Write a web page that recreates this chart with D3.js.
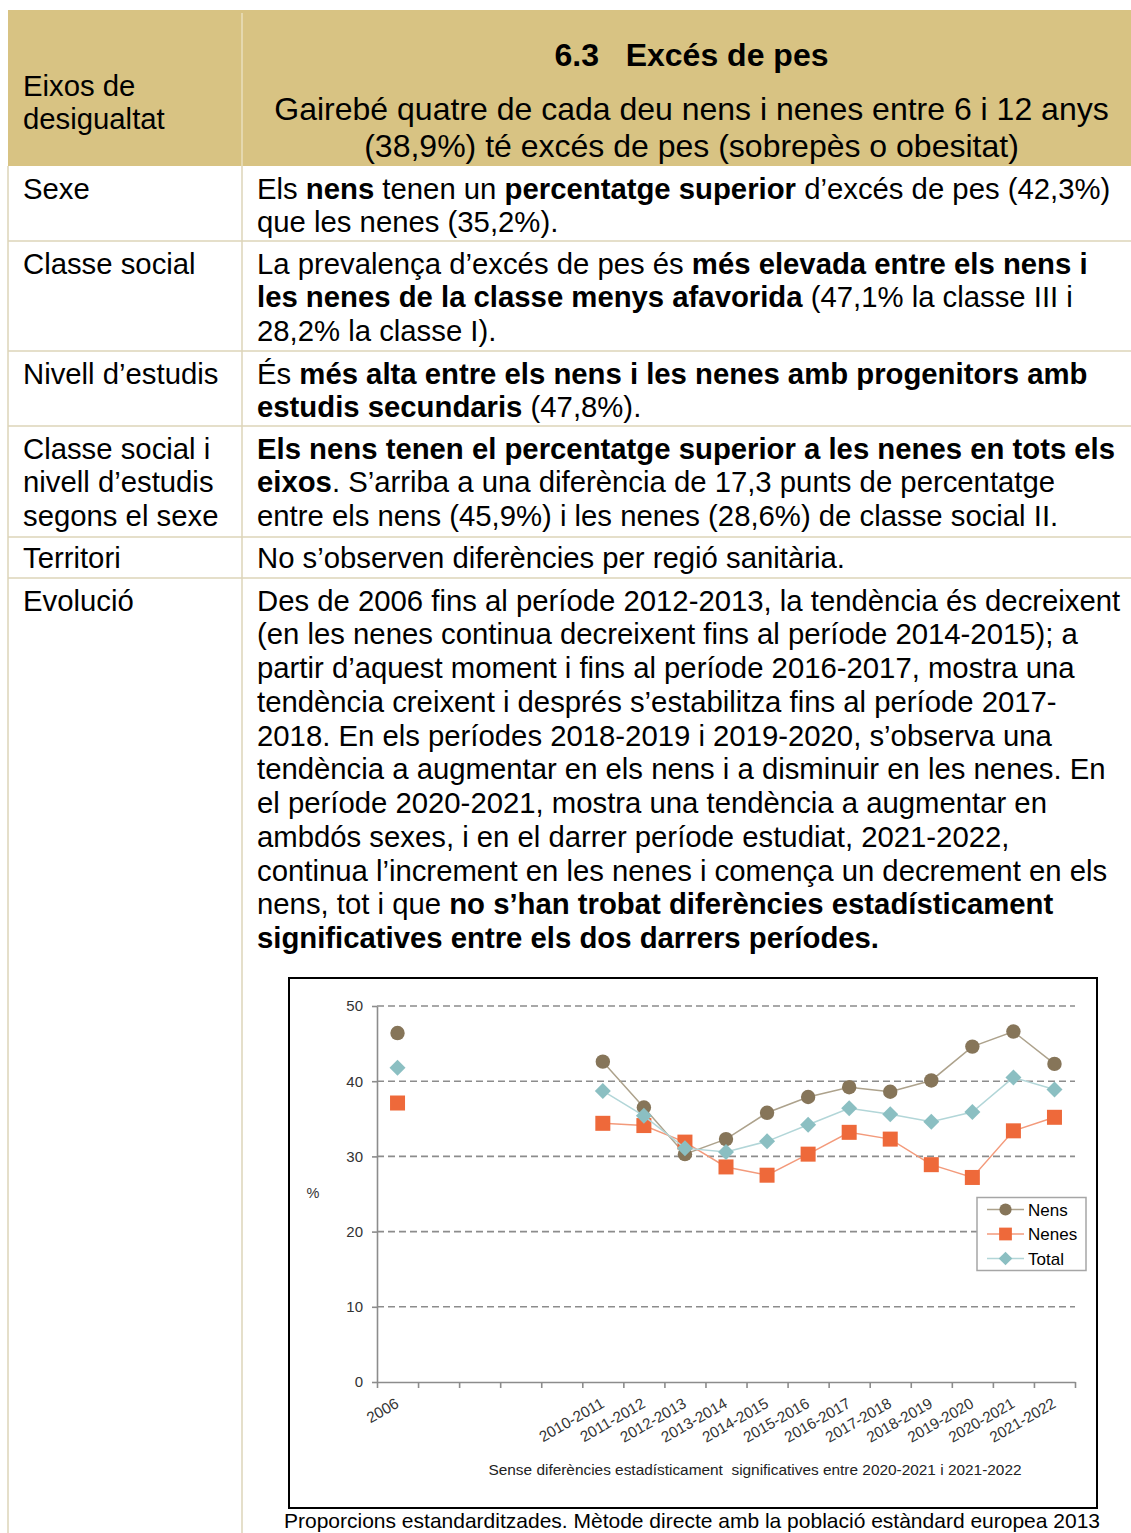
<!DOCTYPE html>
<html>
<head>
<meta charset="utf-8">
<script src="https://cdn.jsdelivr.net/npm/d3@7"></script>
<style>
  body { margin: 0; background: #fff; }
  svg { display: block; font-family: "Liberation Sans", Arial, sans-serif; }
  text { white-space: pre; }
</style>
</head>
<body>
<div id="page"></div>
<script>
// chart data
var categories = ['2006', '', '', '', '', '2010-2011', '2011-2012', '2012-2013', '2013-2014', '2014-2015',
                  '2015-2016', '2016-2017', '2017-2018', '2018-2019', '2019-2020', '2020-2021', '2021-2022'];
var nens  = [46.4, null, null, null, null, 42.6, 36.5, 30.3, 32.3, 35.8, 37.9, 39.2, 38.6, 40.1, 44.6, 46.6, 42.3];
var nenes = [37.1, null, null, null, null, 34.4, 34.1, 31.9, 28.6, 27.5, 30.3, 33.2, 32.3, 28.9, 27.2, 33.4, 35.2];
var total = [41.8, null, null, null, null, 38.7, 35.4, 31.1, 30.6, 32.0, 34.2, 36.4, 35.6, 34.6, 35.9, 40.5, 38.9];
var seriesNames = ['Nens', 'Nenes', 'Total'];
var yTicks = [0, 10, 20, 30, 40, 50];

// table text ("**" toggles bold)
var headLeft = ['Eixos de', 'desigualtat'];
var headTitle = '6.3   Excés de pes';
var headSub = ['Gairebé quatre de cada deu nens i nenes entre 6 i 12 anys',
               '(38,9%) té excés de pes (sobrepès o obesitat)'];
var rowLabels = [
  ['Sexe'],
  ['Classe social'],
  ['Nivell d’estudis'],
  ['Classe social i', 'nivell d’estudis', 'segons el sexe'],
  ['Territori'],
  ['Evolució']
];
var rowTexts = [
  ['Els **nens** tenen un **percentatge superior** d’excés de pes (42,3%)',
   'que les nenes (35,2%).'],
  ['La prevalença d’excés de pes és **més elevada entre els nens i**',
   '**les nenes de la classe menys afavorida** (47,1% la classe III i',
   '28,2% la classe I).'],
  ['És **més alta entre els nens i les nenes amb progenitors amb**',
   '**estudis secundaris** (47,8%).'],
  ['**Els nens tenen el percentatge superior a les nenes en tots els**',
   '**eixos**. S’arriba a una diferència de 17,3 punts de percentatge',
   'entre els nens (45,9%) i les nenes (28,6%) de classe social II.'],
  ['No s’observen diferències per regió sanitària.'],
  ['Des de 2006 fins al període 2012-2013, la tendència és decreixent',
   '(en les nenes continua decreixent fins al període 2014-2015); a',
   'partir d’aquest moment i fins al període 2016-2017, mostra una',
   'tendència creixent i després s’estabilitza fins al període 2017-',
   '2018. En els períodes 2018-2019 i 2019-2020, s’observa una',
   'tendència a augmentar en els nens i a disminuir en les nenes. En',
   'el període 2020-2021, mostra una tendència a augmentar en',
   'ambdós sexes, i en el darrer període estudiat, 2021-2022,',
   'continua l’increment en les nenes i comença un decrement en els',
   'nens, tot i que **no s’han trobat diferències estadísticament**',
   '**significatives entre els dos darrers períodes.**']
];
var note = 'Sense diferències estadísticament  significatives entre 2020-2021 i 2021-2022';
var footnote = 'Proporcions estandarditzades. Mètode directe amb la població estàndard europea 2013';

var W = 1131, H = 1533;
var rowTops = [166, 241, 351, 426, 537, 578];
var rowBase = [198.5, 273.5, 383.5, 458.5, 567.5, 610.5];
var lineH = 33.75;
var fontSize = 29.3;
var headSize = 32;
var colX = 242;

var svg = d3.select('#page').append('svg').attr('width', W).attr('height', H);

function addLine(g, x, y, str, size, anchor) {
  var t = g.append('text')
    .attr('x', x).attr('y', y)
    .attr('text-anchor', anchor || 'start')
    .style('font-size', size + 'px')
    .style('fill', '#000');
  str.split('**').forEach(function(s, i) {
    if (s) t.append('tspan').text(s).style('font-weight', i % 2 ? 'bold' : null);
  });
  return t;
}

// Header
svg.append('rect').attr('x', 8).attr('y', 10).attr('width', W - 8).attr('height', 156).style('fill', '#d8c383');
svg.append('line').attr('x1', colX).attr('x2', colX).attr('y1', 13).attr('y2', 166)
  .style('stroke', '#efe6cb').style('stroke-width', 1.2);
headLeft.forEach(function(s, i) { addLine(svg, 23, 95.5 + i * 33.5, s, fontSize); });
addLine(svg, 691.5, 66, '**' + headTitle + '**', headSize, 'middle');
headSub.forEach(function(s, i) { addLine(svg, 691.5, 119.5 + i * 37, s, headSize, 'middle'); });

// Table grid
var grid = svg.append('g').style('stroke', '#ddd5b9').style('stroke-width', 1.5);
rowTops.slice(1).forEach(function(y) {
  grid.append('line').attr('x1', 8).attr('x2', W).attr('y1', y).attr('y2', y);
});
grid.append('line').attr('x1', 8).attr('x2', 8).attr('y1', 166).attr('y2', H);
grid.append('line').attr('x1', colX).attr('x2', colX).attr('y1', 166).attr('y2', H);

rowLabels.forEach(function(lines, r) {
  lines.forEach(function(s, i) { addLine(svg, 23, rowBase[r] + i * lineH, s, fontSize); });
});
rowTexts.forEach(function(lines, r) {
  lines.forEach(function(s, i) { addLine(svg, 257, rowBase[r] + i * lineH, s, fontSize); });
});

// Chart
var frame = {x: 289, y: 978, w: 808, h: 530};
svg.append('rect').attr('x', frame.x).attr('y', frame.y).attr('width', frame.w).attr('height', frame.h)
  .style('fill', '#fff').style('stroke', '#000').style('stroke-width', 2);

var plot = {left: 377, right: 1075, top: 1006, bottom: 1382};
var n = categories.length;
var xLin = d3.scaleLinear().domain([0, n]).range([plot.left, plot.right]);
var x = d3.scaleBand().domain(d3.range(n)).range([plot.left, plot.right]).padding(0);
var y = d3.scaleLinear().domain([0, 50]).range([plot.bottom, plot.top]);

var chart = svg.append('g');

// gridlines
chart.append('g').selectAll('line').data(yTicks.filter(function(d) { return d > 0; }))
  .enter().append('line')
  .attr('x1', plot.left).attr('x2', plot.right)
  .attr('y1', function(d) { return y(d); }).attr('y2', function(d) { return y(d); })
  .style('stroke', '#8c8c8c').style('stroke-width', 1.6).style('stroke-dasharray', '7,4');

// y axis
var yAxis = chart.append('g').attr('transform', 'translate(' + plot.left + ',0)')
  .call(d3.axisLeft(y).tickValues(yTicks).tickSize(5).tickSizeOuter(0).tickPadding(9));
yAxis.select('.domain').style('stroke', '#8c8c8c').style('stroke-width', 1.6);
yAxis.selectAll('.tick line').style('stroke', '#8c8c8c').style('stroke-width', 1.6);
yAxis.selectAll('.tick text').style('font-size', '15px').style('fill', '#333')
  .style('font-family', '"Liberation Sans", Arial, sans-serif');

// x axis (ticks between categories)
var xAxis = chart.append('g').attr('transform', 'translate(0,' + plot.bottom + ')')
  .call(d3.axisBottom(xLin).tickValues(d3.range(n + 1)).tickFormat('').tickSize(6).tickSizeOuter(0));
xAxis.select('.domain').style('stroke', '#8c8c8c').style('stroke-width', 1.6);
xAxis.selectAll('.tick line').style('stroke', '#8c8c8c').style('stroke-width', 1.6);

var xLabels = chart.append('g').attr('transform', 'translate(0,' + plot.bottom + ')')
  .call(d3.axisBottom(x).tickSize(0).tickFormat(function(i) { return categories[i]; }));
xLabels.select('.domain').remove();
xLabels.selectAll('.tick text')
  .attr('text-anchor', 'end')
  .attr('transform', 'translate(-3,15) rotate(-30)')
  .attr('y', 0).attr('dy', '0.71em')
  .style('font-size', '15.3px').style('fill', '#333')
  .style('font-family', '"Liberation Sans", Arial, sans-serif');

chart.append('text').attr('x', 313).attr('y', 1198).attr('text-anchor', 'middle')
  .style('font-size', '14.5px').style('fill', '#333').text('%');

// series
var colors = {Nens: '#867559', Nenes: '#ee693a', Total: '#8bbfc2'};
var lineColors = {Nens: '#ada28c', Nenes: '#f39a7b', Total: '#b2d6d8'};
var seriesData = [nens, nenes, total];

function marker(sel, name) {
  if (name === 'Nens') {
    sel.append('circle').attr('r', 7.2);
  } else if (name === 'Nenes') {
    sel.append('rect').attr('x', -7.5).attr('y', -7.5).attr('width', 15).attr('height', 15);
  } else {
    sel.append('path').attr('d', 'M0,-8L8,0L0,8L-8,0Z');
  }
  sel.style('fill', colors[name]);
}

var line = d3.line()
  .defined(function(d) { return d != null; })
  .x(function(d, i) { return x(i) + x.bandwidth() / 2; })
  .y(function(d) { return y(d); });

seriesData.forEach(function(vals, s) {
  var name = seriesNames[s];
  var g = chart.append('g');
  g.append('path').datum(vals).attr('d', line)
    .style('fill', 'none').style('stroke', lineColors[name]).style('stroke-width', 1.5);
  g.selectAll('g.pt').data(vals.map(function(v, i) { return {v: v, i: i}; })
      .filter(function(d) { return d.v != null; }))
    .enter().append('g').attr('class', 'pt')
    .attr('transform', function(d) { return 'translate(' + (x(d.i) + x.bandwidth() / 2) + ',' + y(d.v) + ')'; })
    .each(function() { marker(d3.select(this), name); });
});

// legend
var legend = chart.append('g');
legend.append('rect').attr('x', 977).attr('y', 1197.5).attr('width', 109).attr('height', 73)
  .style('fill', '#fff').style('stroke', '#a6a6a6').style('stroke-width', 1.5);
seriesNames.forEach(function(name, i) {
  var ly = 1209.5 + i * 24.5;
  legend.append('line').attr('x1', 987).attr('x2', 1024).attr('y1', ly).attr('y2', ly)
    .style('stroke', lineColors[name]).style('stroke-width', 1.5);
  var m = legend.append('g').attr('transform', 'translate(1005.5,' + ly + ') scale(0.85)');
  marker(m, name);
  legend.append('text').attr('x', 1028).attr('y', ly + 6).style('font-size', '17px').style('fill', '#000').text(name);
});

chart.append('text').attr('x', 755).attr('y', 1475).attr('text-anchor', 'middle')
  .style('font-size', '15.4px').style('fill', '#222').text(note);

svg.append('text').attr('x', 692).attr('y', 1528).attr('text-anchor', 'middle')
  .style('font-size', '21px').style('fill', '#000').text(footnote);
</script>
</body>
</html>
